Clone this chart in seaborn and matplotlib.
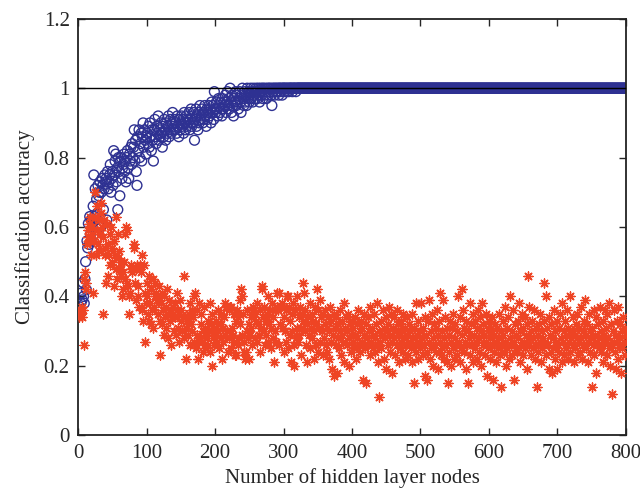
import matplotlib
matplotlib.use("Agg")
import matplotlib.pyplot as plt
import seaborn as sns
import pandas as pd

# Training accuracy (blue circles), one value per hidden-node count from 1
train_acc = [
    0.36, 0.37, 0.36, 0.38, 0.41, 0.39, 0.44, 0.40, 0.38, 0.45,
    0.50, 0.42, 0.56, 0.54, 0.61, 0.55, 0.63, 0.58, 0.62, 0.56,
    0.60, 0.66, 0.75, 0.63, 0.71, 0.62, 0.68, 0.64, 0.72, 0.69,
    0.70, 0.73, 0.60, 0.70, 0.74, 0.72, 0.65, 0.71, 0.75, 0.73,
    0.74, 0.62, 0.76, 0.71, 0.73, 0.75, 0.78, 0.70, 0.74, 0.76,
    0.72, 0.82, 0.75, 0.79, 0.81, 0.73, 0.77, 0.65, 0.80, 0.76,
    0.69, 0.79, 0.80, 0.74, 0.77, 0.78, 0.81, 0.76, 0.79, 0.73,
    0.80, 0.82, 0.77, 0.74, 0.81, 0.79, 0.83, 0.78, 0.84, 0.80,
    0.83, 0.88, 0.79, 0.85, 0.76, 0.72, 0.86, 0.82, 0.88, 0.80,
    0.84, 0.87, 0.79, 0.86, 0.90, 0.83, 0.88, 0.85, 0.81, 0.86,
    0.87, 0.84, 0.89, 0.83, 0.90, 0.86, 0.82, 0.88, 0.85, 0.79,
    0.88, 0.91, 0.86, 0.84, 0.89, 0.87, 0.92, 0.85, 0.88, 0.86,
    0.90, 0.87, 0.83, 0.89, 0.86, 0.91, 0.88, 0.85, 0.90, 0.87,
    0.89, 0.92, 0.86, 0.88, 0.91, 0.87, 0.90, 0.93, 0.88, 0.89,
    0.91, 0.88, 0.90, 0.87, 0.92, 0.89, 0.86, 0.91, 0.88, 0.90,
    0.92, 0.89, 0.91, 0.87, 0.93, 0.90, 0.88, 0.92, 0.89, 0.91,
    0.90, 0.93, 0.88, 0.91, 0.94, 0.89, 0.92, 0.90, 0.93, 0.85,
    0.91, 0.94, 0.89, 0.92, 0.88, 0.93, 0.90, 0.95, 0.91, 0.92,
    0.94, 0.90, 0.93, 0.91, 0.95, 0.92, 0.89, 0.94, 0.91, 0.93,
    0.95, 0.92, 0.94, 0.90, 0.96, 0.93, 0.95, 0.91, 0.99, 0.94,
    0.93, 0.96, 0.94, 0.92, 0.97, 0.95, 0.93, 0.96, 0.94, 0.92,
    0.97, 0.94, 0.96, 0.95, 0.98, 0.93, 0.96, 0.99, 0.95, 0.97,
    0.94, 1.00, 0.96, 0.93, 0.98, 0.95, 0.92, 0.97, 0.96, 0.99,
    0.95, 0.98, 0.96, 0.94, 0.97, 0.99, 0.96, 0.93, 0.98, 1.00,
    0.97, 0.95, 0.99, 0.96, 0.98, 0.95, 1.00, 0.97, 0.99, 0.96,
    0.98, 1.00, 0.97, 0.99, 0.96, 1.00, 0.98, 0.99, 0.97, 1.00,
    0.99, 0.97, 1.00, 0.98, 0.96, 1.00, 0.99, 0.98, 1.00, 0.97,
    1.00, 0.99, 0.98, 1.00, 0.97, 0.99, 1.00, 0.98, 1.00, 0.99,
    1.00, 0.98, 0.95, 1.00, 0.99, 1.00, 0.98, 1.00, 0.99, 1.00,
    0.99, 1.00, 0.98, 1.00, 1.00, 0.99, 1.00, 0.98, 1.00, 1.00,
    1.00, 0.99, 1.00, 1.00, 0.99, 1.00, 1.00, 0.99, 1.00, 1.00,
    1.00, 1.00, 0.99, 1.00, 1.00, 1.00, 1.00, 0.99, 1.00, 1.00,
    1, 1, 1, 1, 1, 1, 1, 1, 1, 1, 1, 1, 1, 1, 1, 1, 1, 1, 1, 1,
    1, 1, 1, 1, 1, 1, 1, 1, 1, 1, 1, 1, 1, 1, 1, 1, 1, 1, 1, 1,
    1, 1, 1, 1, 1, 1, 1, 1, 1, 1, 1, 1, 1, 1, 1, 1, 1, 1, 1, 1,
    1, 1, 1, 1, 1, 1, 1, 1, 1, 1, 1, 1, 1, 1, 1, 1, 1, 1, 1, 1,
    1, 1, 1, 1, 1, 1, 1, 1, 1, 1, 1, 1, 1, 1, 1, 1, 1, 1, 1, 1,
    1, 1, 1, 1, 1, 1, 1, 1, 1, 1, 1, 1, 1, 1, 1, 1, 1, 1, 1, 1,
    1, 1, 1, 1, 1, 1, 1, 1, 1, 1, 1, 1, 1, 1, 1, 1, 1, 1, 1, 1,
    1, 1, 1, 1, 1, 1, 1, 1, 1, 1, 1, 1, 1, 1, 1, 1, 1, 1, 1, 1,
    1, 1, 1, 1, 1, 1, 1, 1, 1, 1, 1, 1, 1, 1, 1, 1, 1, 1, 1, 1,
    1, 1, 1, 1, 1, 1, 1, 1, 1, 1, 1, 1, 1, 1, 1, 1, 1, 1, 1, 1,
    1, 1, 1, 1, 1, 1, 1, 1, 1, 1, 1, 1, 1, 1, 1, 1, 1, 1, 1, 1,
    1, 1, 1, 1, 1, 1, 1, 1, 1, 1, 1, 1, 1, 1, 1, 1, 1, 1, 1, 1,
    1, 1, 1, 1, 1, 1, 1, 1, 1, 1, 1, 1, 1, 1, 1, 1, 1, 1, 1, 1,
    1, 1, 1, 1, 1, 1, 1, 1, 1, 1, 1, 1, 1, 1, 1, 1, 1, 1, 1, 1,
    1, 1, 1, 1, 1, 1, 1, 1, 1, 1, 1, 1, 1, 1, 1, 1, 1, 1, 1, 1,
    1, 1, 1, 1, 1, 1, 1, 1, 1, 1, 1, 1, 1, 1, 1, 1, 1, 1, 1, 1,
    1, 1, 1, 1, 1, 1, 1, 1, 1, 1, 1, 1, 1, 1, 1, 1, 1, 1, 1, 1,
    1, 1, 1, 1, 1, 1, 1, 1, 1, 1, 1, 1, 1, 1, 1, 1, 1, 1, 1, 1,
    1, 1, 1, 1, 1, 1, 1, 1, 1, 1, 1, 1, 1, 1, 1, 1, 1, 1, 1, 1,
    1, 1, 1, 1, 1, 1, 1, 1, 1, 1, 1, 1, 1, 1, 1, 1, 1, 1, 1, 1,
    1, 1, 1, 1, 1, 1, 1, 1, 1, 1, 1, 1, 1, 1, 1, 1, 1, 1, 1, 1,
    1, 1, 1, 1, 1, 1, 1, 1, 1, 1, 1, 1, 1, 1, 1, 1, 1, 1, 1, 1,
    1, 1, 1, 1, 1, 1, 1, 1, 1, 1, 1, 1, 1, 1, 1, 1, 1, 1, 1, 1,
    1, 1, 1, 1, 1, 1, 1, 1, 1, 1, 1, 1, 1, 1, 1, 1, 1, 1, 1, 1,
]

# Testing accuracy (red asterisks), one value per hidden-node count from 1
test_acc = [
    0.35, 0.34, 0.36, 0.35, 0.37, 0.34, 0.36, 0.45, 0.26, 0.47,
    0.44, 0.42, 0.55, 0.59, 0.57, 0.61, 0.56, 0.63, 0.52, 0.58,
    0.60, 0.41, 0.56, 0.70, 0.63, 0.52, 0.59, 0.66, 0.55, 0.62,
    0.53, 0.58, 0.64, 0.67, 0.60, 0.57, 0.35, 0.62, 0.54, 0.52,
    0.44, 0.61, 0.55, 0.46, 0.52, 0.49, 0.58, 0.60, 0.54, 0.50,
    0.53, 0.43, 0.56, 0.52, 0.48, 0.63, 0.45, 0.51, 0.58, 0.53,
    0.48, 0.46, 0.50, 0.40, 0.47, 0.42, 0.50, 0.45, 0.58, 0.60,
    0.59, 0.44, 0.43, 0.40, 0.35, 0.41, 0.48, 0.49, 0.47, 0.48,
    0.55, 0.54, 0.44, 0.39, 0.48, 0.49, 0.43, 0.40, 0.37, 0.48,
    0.49, 0.47, 0.36, 0.52, 0.33, 0.49, 0.41, 0.27, 0.38, 0.44,
    0.40, 0.35, 0.46, 0.33, 0.38, 0.32, 0.42, 0.36, 0.45, 0.31,
    0.37, 0.44, 0.40, 0.41, 0.40, 0.39, 0.35, 0.43, 0.33, 0.23,
    0.38, 0.32, 0.41, 0.36, 0.29, 0.40, 0.34, 0.37, 0.31, 0.42,
    0.35, 0.28, 0.39, 0.33, 0.36, 0.26, 0.34, 0.35, 0.37, 0.30,
    0.34, 0.38, 0.29, 0.36, 0.41, 0.31, 0.35, 0.27, 0.39, 0.33,
    0.36, 0.30, 0.34, 0.28, 0.46, 0.34, 0.31, 0.22, 0.33, 0.33,
    0.29, 0.35, 0.38, 0.26, 0.32, 0.36, 0.30, 0.34, 0.27, 0.40,
    0.41, 0.25, 0.36, 0.29, 0.22, 0.27, 0.38, 0.28, 0.32, 0.35,
    0.27, 0.24, 0.30, 0.37, 0.25, 0.31, 0.29, 0.28, 0.26, 0.33,
    0.30, 0.38, 0.24, 0.32, 0.20, 0.35, 0.28, 0.31, 0.26, 0.29,
    0.29, 0.33, 0.27, 0.36, 0.30, 0.25, 0.32, 0.28, 0.35, 0.22,
    0.31, 0.27, 0.34, 0.29, 0.38, 0.37, 0.37, 0.30, 0.24, 0.36,
    0.28, 0.37, 0.37, 0.25, 0.31, 0.29, 0.35, 0.27, 0.23, 0.33,
    0.23, 0.36, 0.26, 0.34, 0.28, 0.32, 0.39, 0.42, 0.40, 0.29,
    0.35, 0.27, 0.24, 0.22, 0.24, 0.30, 0.36, 0.28, 0.32, 0.22,
    0.29, 0.34, 0.31, 0.26, 0.37, 0.36, 0.36, 0.35, 0.28, 0.33,
    0.38, 0.27, 0.32, 0.29, 0.36, 0.24, 0.31, 0.43, 0.42, 0.34,
    0.30, 0.37, 0.26, 0.33, 0.29, 0.35, 0.40, 0.27, 0.32, 0.36,
    0.25, 0.31, 0.38, 0.28, 0.34, 0.21, 0.30, 0.36, 0.27, 0.41,
    0.37, 0.36, 0.41, 0.26, 0.32, 0.37, 0.37, 0.38, 0.31, 0.24,
    0.34, 0.30, 0.36, 0.27, 0.40, 0.40, 0.25, 0.37, 0.29, 0.33,
    0.21, 0.35, 0.30, 0.38, 0.26, 0.20, 0.36, 0.28, 0.40, 0.31,
    0.27, 0.34, 0.29, 0.37, 0.23, 0.31, 0.35, 0.44, 0.33, 0.41,
    0.30, 0.36, 0.26, 0.32, 0.21, 0.34, 0.29, 0.38, 0.25, 0.31,
    0.35, 0.28, 0.33, 0.22, 0.30, 0.37, 0.26, 0.32, 0.42, 0.36,
    0.24, 0.31, 0.39, 0.27, 0.34, 0.30, 0.23, 0.35, 0.28, 0.32,
    0.36, 0.26, 0.31, 0.24, 0.34, 0.22, 0.30, 0.37, 0.27, 0.33,
    0.19, 0.29, 0.35, 0.17, 0.31, 0.26, 0.34, 0.18, 0.28, 0.32,
    0.25, 0.30, 0.36, 0.23, 0.29, 0.33, 0.27, 0.38, 0.21, 0.31,
    0.34, 0.26, 0.30, 0.35, 0.20, 0.28, 0.32, 0.24, 0.29, 0.33,
    0.27, 0.31, 0.25, 0.34, 0.29, 0.22, 0.32, 0.28, 0.36, 0.26,
    0.30, 0.24, 0.33, 0.27, 0.31, 0.16, 0.29, 0.35, 0.25, 0.15,
    0.32, 0.28, 0.26, 0.34, 0.30, 0.23, 0.37, 0.27, 0.31, 0.25,
    0.29, 0.35, 0.24, 0.28, 0.32, 0.26, 0.38, 0.21, 0.30, 0.11,
    0.27, 0.33, 0.25, 0.29, 0.36, 0.22, 0.31, 0.28, 0.34, 0.19,
    0.30, 0.26, 0.32, 0.37, 0.24, 0.29, 0.35, 0.27, 0.18, 0.31,
    0.28, 0.34, 0.23, 0.30, 0.36, 0.26, 0.32, 0.21, 0.29, 0.25,
    0.33, 0.27, 0.30, 0.24, 0.35, 0.28, 0.22, 0.31, 0.26, 0.34,
    0.29, 0.23, 0.32, 0.27, 0.30, 0.25, 0.35, 0.21, 0.28, 0.15,
    0.31, 0.26, 0.24, 0.38, 0.29, 0.22, 0.33, 0.27, 0.30, 0.25,
    0.38, 0.28, 0.23, 0.31, 0.26, 0.34, 0.17, 0.29, 0.24, 0.16,
    0.33, 0.27, 0.39, 0.22, 0.30, 0.25, 0.35, 0.28, 0.20, 0.32,
    0.26, 0.31, 0.24, 0.36, 0.29, 0.19, 0.33, 0.27, 0.41, 0.23,
    0.30, 0.25, 0.39, 0.28, 0.22, 0.34, 0.26, 0.31, 0.21, 0.15,
    0.29, 0.24, 0.33, 0.27, 0.20, 0.31, 0.25, 0.35, 0.22, 0.28,
    0.32, 0.26, 0.23, 0.30, 0.40, 0.27, 0.21, 0.34, 0.25, 0.42,
    0.29, 0.36, 0.24, 0.31, 0.27, 0.19, 0.33, 0.26, 0.30, 0.15,
    0.28, 0.38, 0.23, 0.32, 0.26, 0.35, 0.21, 0.29, 0.25, 0.33,
    0.27, 0.31, 0.22, 0.36, 0.28, 0.24, 0.34, 0.30, 0.20, 0.38,
    0.26, 0.32, 0.29, 0.23, 0.35, 0.27, 0.17, 0.31, 0.25, 0.33,
    0.28, 0.22, 0.30, 0.26, 0.34, 0.16, 0.29, 0.24, 0.32, 0.27,
    0.21, 0.31, 0.25, 0.35, 0.28, 0.23, 0.30, 0.14, 0.26, 0.33,
    0.29, 0.24, 0.37, 0.27, 0.20, 0.31, 0.25, 0.34, 0.22, 0.28,
    0.40, 0.26, 0.30, 0.23, 0.36, 0.27, 0.16, 0.32, 0.25, 0.29,
    0.24, 0.33, 0.28, 0.38, 0.21, 0.30, 0.26, 0.35, 0.23, 0.31,
    0.27, 0.34, 0.25, 0.29, 0.19, 0.32, 0.46, 0.26, 0.37, 0.28,
    0.23, 0.30, 0.33, 0.25, 0.28, 0.36, 0.22, 0.31, 0.26, 0.14,
    0.29, 0.24, 0.32, 0.27, 0.35, 0.21, 0.30, 0.25, 0.28, 0.33,
    0.44, 0.27, 0.40, 0.23, 0.31, 0.26, 0.34, 0.19, 0.29, 0.24,
    0.32, 0.18, 0.28, 0.25, 0.36, 0.22, 0.30, 0.27, 0.19, 0.33,
    0.26, 0.31, 0.24, 0.35, 0.28, 0.21, 0.38, 0.27, 0.30, 0.23,
    0.33, 0.25, 0.29, 0.36, 0.22, 0.31, 0.27, 0.40, 0.24, 0.28,
    0.30, 0.26, 0.34, 0.21, 0.29, 0.25, 0.32, 0.28, 0.35, 0.23,
    0.27, 0.31, 0.24, 0.37, 0.28, 0.22, 0.30, 0.26, 0.33, 0.39,
    0.25, 0.29, 0.32, 0.21, 0.27, 0.35, 0.24, 0.30, 0.28, 0.14,
    0.31, 0.26, 0.36, 0.23, 0.29, 0.34, 0.18, 0.27, 0.32, 0.25,
    0.28, 0.37, 0.24, 0.30, 0.26, 0.33, 0.21, 0.29, 0.36, 0.27,
    0.31, 0.23, 0.35, 0.28, 0.25, 0.38, 0.20, 0.32, 0.26, 0.12,
    0.30, 0.27, 0.36, 0.24, 0.19, 0.29, 0.33, 0.22, 0.37, 0.26,
    0.28, 0.32, 0.18, 0.30, 0.25, 0.34, 0.27, 0.31, 0.23, 0.29,
]

# Number of hidden layer nodes for each series
train_nodes = list(range(1, len(train_acc) + 1))
test_nodes = list(range(1, len(test_acc) + 1))

x_ticks = [0, 100, 200, 300, 400, 500, 600, 700, 800]
y_ticks = [0, 0.2, 0.4, 0.6, 0.8, 1.0, 1.2]
y_tick_labels = ["0", "0.2", "0.4", "0.6", "0.8", "1", "1.2"]

BLUE = "#2E3192"
RED = "#EE4424"

sns.set_style("ticks")
plt.rcParams["font.family"] = ["Liberation Serif", "DejaVu Serif"]

df_train = pd.DataFrame({"nodes": train_nodes, "acc": train_acc})
df_test = pd.DataFrame({"nodes": test_nodes, "acc": test_acc})

fig, ax = plt.subplots(figsize=(6.4, 4.94), dpi=100)
fig.subplots_adjust(left=0.122, right=0.978, bottom=0.119, top=0.962)

sns.scatterplot(data=df_train, x="nodes", y="acc", ax=ax, marker="o",
                facecolor="none", edgecolor=BLUE, linewidth=1.0, s=50,
                zorder=2)
sns.scatterplot(data=df_test, x="nodes", y="acc", ax=ax, marker=(8, 2, 0),
                color=RED, linewidth=1.0, s=42, zorder=3)
ax.axhline(1.0, color="black", linewidth=1.0, zorder=4)

ax.set_xlim(0, 800)
ax.set_ylim(0, 1.2)
ax.set_xticks(x_ticks)
ax.set_yticks(y_ticks)
ax.set_yticklabels(y_tick_labels)
ax.set_xlabel("Number of hidden layer nodes", fontsize=15, labelpad=4)
ax.set_ylabel("Classification accuracy", fontsize=15, labelpad=6)
ax.tick_params(direction="in", top=True, right=True, length=5, width=1.0,
               labelsize=15, pad=6)
for sp in ax.spines.values():
    sp.set_visible(True)
    sp.set_linewidth(1.3)
    sp.set_color("#222222")

fig.savefig("out.png", dpi=100)
